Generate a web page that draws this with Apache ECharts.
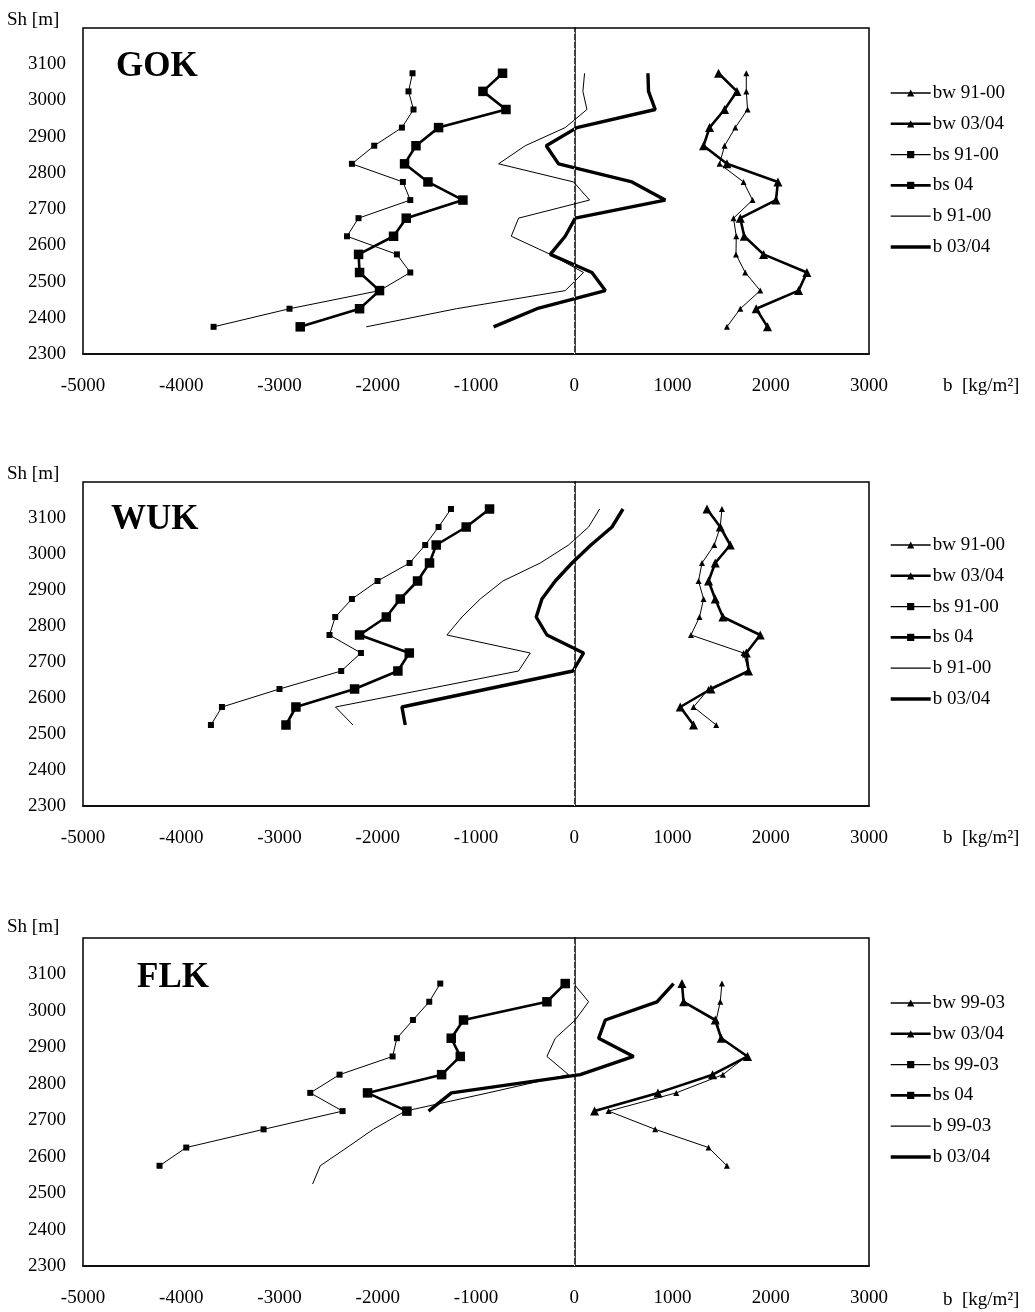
<!DOCTYPE html>
<html><head><meta charset="utf-8">
<script src="https://cdn.jsdelivr.net/npm/echarts@6/dist/echarts.min.js"></script>
<style>html,body{margin:0;padding:0;background:#fff}#c{width:1035px;height:1312px}</style>
</head><body><div id="c"></div><script>
// ---------- axes ----------
const xMin = -5000, xMax = 3000, xStep = 1000;
const yMin = 2300, yMax = 3200, yStep = 100;
const xTitle = 'b  [kg/m²]';
const yTitle = 'Sh [m]';

// ---------- GOK ----------
const gokLevels = [3075,3025,2975,2925,2875,2825,2775,2725,2675,2625,2575,2525,2475,2425,2375];
const gokBwOld  = [1751,1751,1764,1639,1530,1479,1723,1815,1621,1649,1646,1740,1893,1690,1554];
const gokBwNew  = [1469,1656,1530,1377,1316,1554,2073,2053,1690,1730,1927,2368,2283,1852,1967];
const gokBsOld  = [-1646,-1687,-1636,-1754,-2036,-2263,-1744,-1669,-2196,-2313,-1805,-1669,-1982,-2898,-3671];
const gokBsNew  = [-730,-929,-695,-1381,-1611,-1727,-1489,-1133,-1710,-1839,-2195,-2185,-1982,-2185,-2789];
const gokBOld   = [105,88,129,-92,-499,-770,-7,156,-567,-641,-244,95,-92,-1200,-2117];
const gokBNew   = [750,756,824,27,-285,-160,587,926,10,-92,-244,180,316,-380,-821];
const gokNames  = ['bw 91-00','bw 03/04','bs 91-00','bs 04','b 91-00','b 03/04'];

// ---------- WUK ----------
const wukLevels = [3125,3075,3025,2975,2925,2875,2825,2775,2725,2675,2625,2575,2525];
const wukBwOld  = [1503,1486,1425,1300,1265,1316,1275,1188,1723,1774,1367,1214,1445];
const wukBwNew  = [1351,1486,1588,1435,1367,1435,1513,1893,1751,1774,1391,1079,1214];
const wukBsOld  = [-1255,-1381,-1517,-1676,-2002,-2263,-2433,-2491,-2171,-2372,-3000,-3586,-3698];
const wukBsNew  = [-862,-1100,-1405,-1473,-1595,-1771,-1913,-2185,-1679,-1795,-2236,-2833,-2934];
const wukBOld   = [258,146,-58,-346,-726,-957,-1143,-1296,-448,-567,-1496,-2430,-2252];
const wukBNew   = [496,384,170,-23,-193,-329,-387,-278,95,-13,-885,-1754,-1720];
const wukNames  = ['bw 91-00','bw 03/04','bs 91-00','bs 04','b 91-00','b 03/04'];

// ---------- FLK ----------
const flkLevels   = [3075,3025,2975,2925,2875,2825,2775,2725,2675,2625,2575,2525];
const flkBwOld    = [1503,1486,1445,1496,1751,1513,1038,349,824,1367,1554];
const flkBwNew    = [1096,1113,1435,1496,1764,1408,852,207];
const flkBsOld    = [-1364,-1476,-1642,-1805,-1849,-2389,-2687,-2358,-3162,-3949,-4221];
const flkBsNew    = [-92,-278,-1127,-1252,-1160,-1350,-2104,-1703];
const flkBOld     = [-7,146,10,-193,-278,-58,-877,-1720,-2046,-2313,-2585,-2663];
const flkBNew     = [1011,842,316,248,604,61,-1250,-1483];
const flkNames    = ['bw 99-03','bw 03/04','bs 99-03','bs 04','b 99-03','b 03/04'];

const FONT = "'Liberation Serif','Times New Roman',serif";
const panels = [
  {title:'GOK', top:28, height:326, titleX:116, titleY:68, legTop:83.5, shY:21, xlabY:387,
   levels:gokLevels, vals:[gokBwOld,gokBwNew,gokBsOld,gokBsNew,gokBOld,gokBNew], names:gokNames},
  {title:'WUK', top:482, height:324, titleX:111, titleY:521, legTop:535.5, shY:475, xlabY:839,
   levels:wukLevels, vals:[wukBwOld,wukBwNew,wukBsOld,wukBsNew,wukBOld,wukBNew], names:wukNames},
  {title:'FLK', top:938, height:328, titleX:137, titleY:979, legTop:993.5, shY:928, xlabY:1301,
   levels:flkLevels, vals:[flkBwOld,flkBwNew,flkBsOld,flkBsNew,flkBOld,flkBNew], names:flkNames}
];
const styles = [
  {sym:'triangle', size:6, w:1, show:true, lw:1.3},
  {sym:'triangle', size:9, w:2.6, show:true, lw:2.6},
  {sym:'rect', size:6, w:1, show:true, lw:1.3},
  {sym:'rect', size:9.5, w:2.6, show:true, lw:2.6},
  {sym:'circle', size:0, w:1, show:false, lw:1.3},
  {sym:'circle', size:0, w:3.4, show:false, lw:3.4}
];

const grid=[], xAxis=[], yAxis=[], series=[], legend=[], graphic=[];
panels.forEach((p,gi)=>{
  grid.push({left:83, right:166, top:p.top, height:p.height, show:true, borderColor:'#000', borderWidth:1.5, backgroundColor:'#fff'});
  xAxis.push({type:'value', gridIndex:gi, min:xMin, max:xMax, interval:xStep,
    axisLine:{show:true, onZero:false, lineStyle:{color:'#000', width:1.5}}, axisTick:{show:false}, splitLine:{show:false},
    axisLabel:{margin:23, color:'#000', fontFamily:FONT, fontSize:19, formatter:v=>String(v)}});
  yAxis.push({type:'value', gridIndex:gi, min:yMin, max:yMax, interval:yStep,
    axisLine:{show:true, lineStyle:{color:'#000', width:1.5}}, axisTick:{show:false}, splitLine:{show:false},
    axisLabel:{margin:17, color:'#000', fontFamily:FONT, fontSize:19, formatter:v=> v>=yMax ? '' : String(v)}});
  const legData = [];
  p.names.forEach((nm,k)=>{
    const st = styles[k];
    const vals = p.vals[k];
    const s = {name:nm, type:'line', xAxisIndex:gi, yAxisIndex:gi,
      data: vals.map((v,i)=>[v, p.levels[i]]),
      symbol: st.sym, symbolSize: st.size, showSymbol: st.show,
      lineStyle:{color:'#000', width:st.w},
      itemStyle:{color: st.show ? '#000' : 'rgba(0,0,0,0)'},
      animation:false, silent:true};
    if (k===4) {
      s.markLine = {silent:true, symbol:'none', label:{show:false},
        lineStyle:{color:'#c8c8c8', type:[2,6], width:1}, data:[{xAxis:0}]};
    }
    series.push(s);
    legData.push({name:nm, lineStyle:{width:st.lw, color:'#000'}});
  });
  legend.push({data:legData, orient:'vertical', left:889, top:p.legTop, padding:0,
    itemWidth:40, itemHeight:9, itemGap:11.8, selectedMode:false,
    textStyle:{color:'#000', fontFamily:FONT, fontSize:19, lineHeight:19, padding:[0,0,0,-3]}});
  graphic.push({type:'text', left:p.titleX, top:p.titleY-19, silent:true,
    style:{text:p.title, font:"bold 35px 'Liberation Serif','Times New Roman',serif", fill:'#000'}});
  graphic.push({type:'text', left:7, top:p.shY-10, silent:true,
    style:{text:yTitle, font:"19px 'Liberation Serif','Times New Roman',serif", fill:'#000'}});
  graphic.push({type:'text', left:943, top:p.xlabY-10, silent:true,
    style:{text:xTitle, font:"19px 'Liberation Serif','Times New Roman',serif", fill:'#000'}});
});

const chart = echarts.init(document.getElementById('c'), null, {renderer:'canvas'});
chart.setOption({backgroundColor:'#fff', animation:false, grid, xAxis, yAxis, series, legend, graphic});
</script></body></html>
